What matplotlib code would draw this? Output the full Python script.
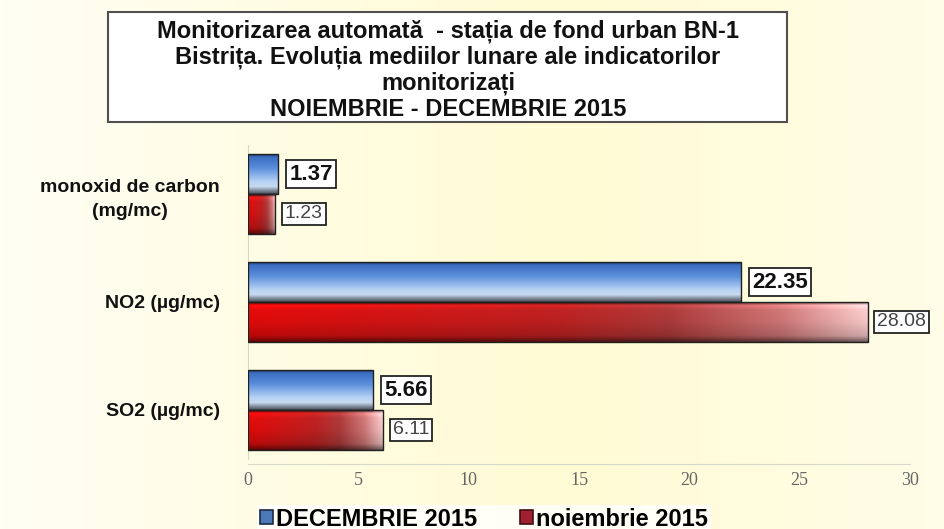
import numpy as np
import matplotlib
matplotlib.use('Agg')
import matplotlib.pyplot as plt
from matplotlib.patches import Rectangle
from matplotlib.colors import to_rgb

# ---- data
categories = ['SO2 (µg/mc)', 'NO2 (µg/mc)', 'monoxid de carbon\n(mg/mc)']
decembrie = [5.66, 22.35, 1.37]
noiembrie = [6.11, 28.08, 1.23]
xticks = [0, 5, 10, 15, 20, 25, 30]
title = ('Monitorizarea automată  - stația de fond urban BN-1\n'
         'Bistrița. Evoluția mediilor lunare ale indicatorilor\n'
         'monitorizați\n'
         'NOIEMBRIE - DECEMBRIE 2015')
leg_labels = ['DECEMBRIE 2015', 'noiembrie 2015']

plt.rcParams['font.family'] = ['Liberation Sans', 'DejaVu Sans']

fig = plt.figure(figsize=(9.45, 5.29), dpi=100)

# background gradient (pale cream -> yellow -> cream)
bg = fig.add_axes([0, 0, 1, 1], zorder=-10)
bx = np.linspace(0, 1, 300)
stops = [(0.0, '#fffff4'), (0.25, '#fffde6'), (0.6, '#fffbd4'), (1.0, '#fffde8')]
def ramp(t, stops):
    ts = [s[0] for s in stops]
    cs = np.array([to_rgb(s[1]) for s in stops])
    return np.stack([np.interp(t, ts, cs[:, i]) for i in range(3)], axis=-1)
bg.imshow(ramp(bx, stops)[None, :, :], aspect='auto', extent=(0, 1, 0, 1))
bg.axis('off')

ax = fig.add_axes([248/945, 1-464/529, 662/945, 324/529])
ax.patch.set_alpha(0)

y = np.arange(len(categories))
h = 0.37

blue_v = [(0.0, '#1d3a66'), (0.06, '#3a6cc0'), (0.35, '#5b8fdc'), (0.7, '#b9d3f4'),
          (0.82, '#c8daf0'), (0.9, '#8c99a8'), (1.0, '#4a4f58')]
red_h = [(0.0, '#dc0a0a'), (0.5, '#b82020'), (0.68, '#a83838'), (0.86, '#c87272'),
         (1.0, '#f2c4c4')]


def blue_img():
    t = np.linspace(0, 1, 60)
    col = ramp(t, blue_v)
    return np.repeat(col[:, None, :], 2, axis=1)


def red_img():
    tx = np.linspace(0, 1, 200)
    ty = np.linspace(0, 1, 60)
    base = ramp(tx, red_h)[None, :, :]
    shade = np.interp(ty, [0, 0.08, 0.18, 0.5, 0.85, 1.0],
                      [0.55, 1.2, 1.05, 1.0, 0.85, 0.45])[:, None, None]
    img = np.clip(base * shade, 0, 1)
    return img


def grad_bar(x0, y0, w, hh, img):
    rect = Rectangle((x0, y0), w, hh, facecolor='none', edgecolor='#202020',
                     lw=1.0, zorder=3)
    ax.add_patch(rect)
    im = ax.imshow(img, aspect='auto', extent=(x0, x0 + w, y0, y0 + hh),
                   origin='upper', zorder=2, interpolation='bilinear')
    im.set_clip_path(rect)


bars_b = ax.barh(y + h / 2, decembrie, height=h, color='none')
bars_r = ax.barh(y - h / 2, noiembrie, height=h, color='none')
for b in bars_b:
    grad_bar(b.get_x(), b.get_y(), b.get_width(), b.get_height(), blue_img())
for b in bars_r:
    grad_bar(b.get_x(), b.get_y(), b.get_width(), b.get_height(), red_img())

for yy, v in zip(y, decembrie):
    ax.annotate(f'{v:.2f}', (v, yy + h / 2), xytext=(8, 0), textcoords='offset points',
                va='center', ha='left', fontsize=16, fontweight='bold', color='#111111',
                bbox=dict(boxstyle='square,pad=0.15', fc='white', ec='#222222', lw=1.3),
                annotation_clip=False)
for yy, v in zip(y, noiembrie):
    ax.annotate(f'{v:.2f}', (v, yy - h / 2), xytext=(7, 0), textcoords='offset points',
                va='center', ha='left', fontsize=14, color='#444444',
                bbox=dict(boxstyle='square,pad=0.15', fc='white', ec='#222222', lw=1.3),
                annotation_clip=False)

ax.set_xlim(0, 30)
ax.set_ylim(-0.5, 2.5)
ax.set_xticks(xticks)
ax.set_xticklabels([str(t) for t in xticks], family='Liberation Serif', fontsize=13,
                   color='#666666')
ax.set_yticks(y)
ax.set_yticklabels(categories, fontsize=14, fontweight='bold', color='#111111',
                   multialignment='center', linespacing=1.5)
ax.tick_params(axis='both', length=0)
ax.tick_params(axis='x', pad=6)
ax.tick_params(axis='y', pad=20)
for s in ['top', 'right']:
    ax.spines[s].set_visible(False)
ax.spines['left'].set_color('#d8d8c0')
ax.spines['bottom'].set_color('#d8d8c8')
ax.spines['left'].set_bounds(-0.45, 2.45)

# title box
fig.patches.append(Rectangle((108/945, 1-122/529), (787-108)/945, 110/529,
                             transform=fig.transFigure, fc='white', ec='#505050',
                             lw=1.5, zorder=5))
fig.text(448/945, 1-70/529, title, ha='center', va='center', fontsize=17,
         fontweight='bold', color='#111111', linespacing=1.14, zorder=6)

# legend
hb = Rectangle((0, 0), 1, 1, fc='#4a78b8', ec='#1a2a40', lw=1.2)
hr = Rectangle((0, 0), 1, 1, fc='#a02030', ec='#401010', lw=1.2)
leg = fig.legend([hb, hr], leg_labels, loc='center', bbox_to_anchor=(484/945, 1-519/529),
                 ncol=2, frameon=True, handlelength=0.55, handleheight=0.55,
                 handletextpad=0.15, columnspacing=1.8, borderpad=0.1, fancybox=False,
                 prop={'weight': 'bold', 'size': 17})
leg.get_frame().set_facecolor('white')
leg.get_frame().set_edgecolor('none')

fig.savefig('out.png', dpi=100)
